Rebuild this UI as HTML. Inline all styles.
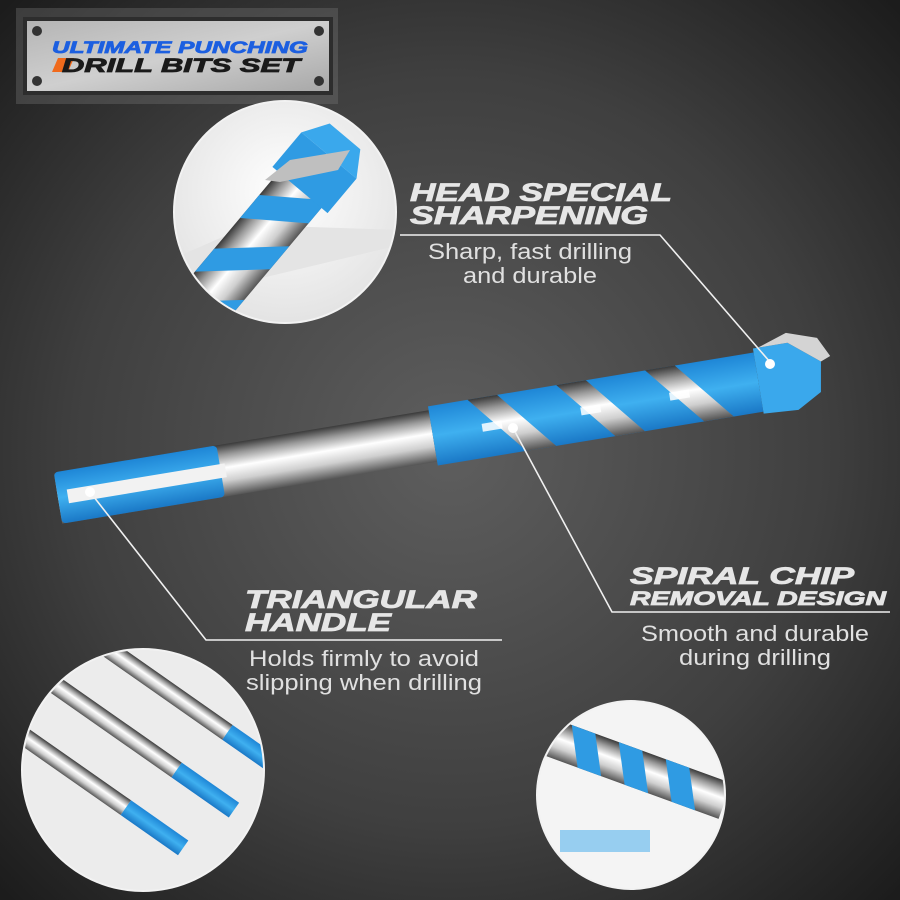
<!DOCTYPE html>
<html><head><meta charset="utf-8"><style>
html,body{margin:0;padding:0;background:#2a2a2a}
svg{display:block}
.h{font-family:"Liberation Sans",sans-serif;font-weight:900;font-style:italic;fill:#e6e6e6;stroke:#e6e6e6;stroke-width:0.8}
.b{font-family:"Liberation Sans",sans-serif;fill:#e0e0e0;font-size:22px}
</style></head><body>
<svg width="900" height="900" viewBox="0 0 900 900" xmlns="http://www.w3.org/2000/svg">
<defs>
<radialGradient id="bg" cx="50%" cy="50%" r="70%">
<stop offset="0" stop-color="#5e5e5e"/><stop offset="0.6" stop-color="#3f3f3f"/><stop offset="1" stop-color="#1c1c1c"/>
</radialGradient>
<linearGradient id="steel" x1="0" y1="0" x2="0" y2="1">
<stop offset="0" stop-color="#3a3a3a"/><stop offset="0.2" stop-color="#9a9a9a"/><stop offset="0.45" stop-color="#ffffff"/><stop offset="0.7" stop-color="#cfcfcf"/><stop offset="1" stop-color="#555"/>
</linearGradient>
<linearGradient id="blue" x1="0" y1="0" x2="0" y2="1">
<stop offset="0" stop-color="#1e86d6"/><stop offset="0.5" stop-color="#3fb0f0"/><stop offset="1" stop-color="#1a78c6"/>
</linearGradient>
<linearGradient id="plate" x1="0" y1="0" x2="1" y2="1">
<stop offset="0" stop-color="#b5b5b5"/><stop offset="0.5" stop-color="#cfcfcf"/><stop offset="1" stop-color="#a8a8a8"/>
</linearGradient>
<radialGradient id="circ" cx="50%" cy="40%" r="60%">
<stop offset="0" stop-color="#ffffff"/><stop offset="1" stop-color="#e2e2e2"/>
</radialGradient>
<clipPath id="c1"><circle cx="285" cy="212" r="110"/></clipPath>
<clipPath id="c2"><circle cx="143" cy="770" r="120"/></clipPath>
<clipPath id="c3"><circle cx="631" cy="795" r="93"/></clipPath>
</defs>
<rect width="900" height="900" fill="url(#bg)"/>

<!-- plate -->
<rect x="16" y="8" width="322" height="96" fill="#777" opacity="0.35"/>
<rect x="23" y="17" width="310" height="78" fill="#2d2d2d"/>
<rect x="27" y="21" width="302" height="70" fill="url(#plate)"/>
<g fill="#333"><circle cx="37" cy="31" r="5"/><circle cx="319" cy="31" r="5"/><circle cx="37" cy="81" r="5"/><circle cx="319" cy="81" r="5"/></g>
<text x="52" y="53" class="h" style="font-size:17px;fill:#1c5fe0;stroke:#1c5fe0" textLength="256" lengthAdjust="spacingAndGlyphs">ULTIMATE PUNCHING</text>
<polygon points="58,58 74,58 68,72 52,72" fill="#f06a1c"/>
<text x="62" y="72" class="h" style="font-size:19px;fill:#1a1a1a;stroke:#1a1a1a" textLength="238" lengthAdjust="spacingAndGlyphs">DRILL BITS SET</text>

<!-- top circle -->
<circle cx="285" cy="212" r="112" fill="#f2f2f2"/>
<g clip-path="url(#c1)">
<rect x="170" y="100" width="230" height="230" fill="url(#circ)"/>
<polygon points="170,260 250,225 400,230 400,245 170,300" fill="#e4e4e4"/>
<g transform="translate(300,190) rotate(-50)">
<rect x="-200" y="-28" width="220" height="56" fill="url(#steel)"/>
<polygon points="-200,-28 -170,-28 -120,28 -150,28" fill="#2f9be3"/>
<polygon points="-130,-28 -100,-28 -50,28 -80,28" fill="#2f9be3"/>
<polygon points="-60,-28 -30,-28 10,28 -20,28" fill="#2f9be3"/>
<rect x="0" y="-36" width="45" height="72" fill="#2f9be3"/>
<polygon points="45,-36 70,-20 70,20 45,36" fill="#3aa8ec"/>
</g>
<polygon points="265,180 290,160 350,150 338,170 280,182" fill="#bfbfbf"/>
</g>

<!-- bottom-left circle -->
<circle cx="143" cy="770" r="122" fill="#f2f2f2"/>
<g clip-path="url(#c2)">
<rect x="20" y="645" width="250" height="250" fill="#ececec"/>
<g transform="rotate(35 140 770)">
<g transform="translate(0,-70)"><rect x="40" y="750" width="150" height="18" fill="url(#steel)"/><rect x="190" y="750" width="70" height="18" fill="url(#blue)"/></g>
<g transform="translate(-20,-10)"><rect x="40" y="750" width="150" height="18" fill="url(#steel)"/><rect x="190" y="750" width="70" height="18" fill="url(#blue)"/></g>
<g transform="translate(-40,50)"><rect x="40" y="750" width="150" height="18" fill="url(#steel)"/><rect x="190" y="750" width="70" height="18" fill="url(#blue)"/></g>
</g>
</g>

<!-- bottom-right circle -->
<circle cx="631" cy="795" r="95" fill="#f2f2f2"/>
<g clip-path="url(#c3)">
<rect x="535" y="700" width="200" height="200" fill="#f4f4f4"/>
<g transform="rotate(20 631 770)">
<rect x="530" y="748" width="200" height="38" fill="url(#steel)"/>
<polygon points="560,748 585,748 605,786 580,786" fill="#2f9be3"/>
<polygon points="610,748 635,748 655,786 630,786" fill="#2f9be3"/>
<polygon points="660,748 685,748 705,786 680,786" fill="#2f9be3"/>
</g>
<g opacity="0.5"><rect x="560" y="830" width="90" height="22" fill="#3aa8ec"/></g>
</g>

<!-- drill -->
<g transform="translate(58,498) rotate(-9.4)">
<rect x="0" y="-26" width="380" height="52" fill="url(#steel)"/>
<rect x="0" y="-26" width="165" height="52" rx="4" fill="url(#blue)"/>
<rect x="10" y="-7" width="160" height="14" fill="#f2f2f2"/>
<rect x="380" y="-30" width="330" height="60" fill="url(#blue)"/>
<g fill="url(#steel)">
<polygon points="420,-30 450,-30 500,30 470,30"/>
<polygon points="510,-30 540,-30 590,30 560,30"/>
<polygon points="600,-30 630,-30 680,30 650,30"/>
</g>
<polygon points="710,-34 745,-34 775,-10 770,20 745,34 710,32" fill="#3aa8ec"/>
<polygon points="715,-34 745,-44 775,-34 785,-14 775,-10 745,-34" fill="#d4d4d4"/>
<g fill="#fff" opacity="0.85"><rect x="430" y="-4" width="20" height="8"/><rect x="530" y="-4" width="20" height="8"/><rect x="620" y="-4" width="20" height="8"/></g>
</g>

<!-- leaders -->
<g stroke="#f0f0f0" stroke-width="1.6" fill="none">
<polyline points="400,235 660,235 770,362"/>
<polyline points="513,428 612,612 890,612"/>
<polyline points="90,492 206,640 502,640"/>
</g>
<g fill="#fff"><circle cx="770" cy="364" r="5"/><circle cx="513" cy="428" r="5"/><circle cx="90" cy="492" r="5"/></g>

<text x="410" y="201" class="h" style="font-size:25px" textLength="262" lengthAdjust="spacingAndGlyphs">HEAD SPECIAL</text>
<text x="410" y="224" class="h" style="font-size:25px" textLength="238" lengthAdjust="spacingAndGlyphs">SHARPENING</text>
<text x="530" y="259" class="b" text-anchor="middle" textLength="204" lengthAdjust="spacingAndGlyphs">Sharp, fast drilling</text>
<text x="530" y="283" class="b" text-anchor="middle" textLength="134" lengthAdjust="spacingAndGlyphs">and durable</text>

<text x="630" y="584" class="h" style="font-size:24px" textLength="224" lengthAdjust="spacingAndGlyphs">SPIRAL CHIP</text>
<text x="630" y="605" class="h" style="font-size:19px" textLength="256" lengthAdjust="spacingAndGlyphs">REMOVAL DESIGN</text>
<text x="755" y="641" class="b" text-anchor="middle" textLength="228" lengthAdjust="spacingAndGlyphs">Smooth and durable</text>
<text x="755" y="665" class="b" text-anchor="middle" textLength="152" lengthAdjust="spacingAndGlyphs">during drilling</text>

<text x="245" y="608" class="h" style="font-size:25px" textLength="232" lengthAdjust="spacingAndGlyphs">TRIANGULAR</text>
<text x="245" y="631" class="h" style="font-size:25px" textLength="146" lengthAdjust="spacingAndGlyphs">HANDLE</text>
<text x="364" y="666" class="b" text-anchor="middle" textLength="230" lengthAdjust="spacingAndGlyphs">Holds firmly to avoid</text>
<text x="364" y="690" class="b" text-anchor="middle" textLength="236" lengthAdjust="spacingAndGlyphs">slipping when drilling</text>
</svg>
</body></html>
